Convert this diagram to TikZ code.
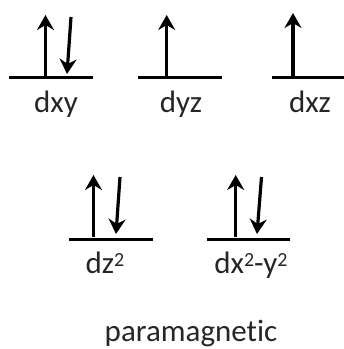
\documentclass[tikz,border=0pt]{standalone}
\usepackage{fontspec}
\setmainfont[Ligatures=NoCommon]{Carlito}
\usetikzlibrary{arrows.meta}
\newcommand{\sq}{\raisebox{7pt}{\fontsize{20}{20}\selectfont 2}}
\begin{document}
\begin{tikzpicture}[x=1pt,y=-1pt,
  level/.style={line width=3pt},
  spin/.style={line width=3.2pt,-{Stealth[length=15pt,width=17pt,inset=5pt]}},
  lab/.style={anchor=base,inner sep=0pt,font=\fontsize{31}{37}\selectfont,text=black!85}]
\useasboundingbox (0,0) rectangle (344,349);
% levels
\coordinate (l1a) at (9,77.5);   \coordinate (l1b) at (93,77.5);
\coordinate (l2a) at (138,77.5); \coordinate (l2b) at (222,77.5);
\coordinate (l3a) at (272,77.5); \coordinate (l3b) at (344,77.5);
\coordinate (l4a) at (69,239);   \coordinate (l4b) at (153,239);
\coordinate (l5a) at (207,239);  \coordinate (l5b) at (290,239);
\draw[level] (l1a) -- (l1b);
\draw[level] (l2a) -- (l2b);
\draw[level] (l3a) -- (l3b);
\draw[level] (l4a) -- (l4b);
\draw[level] (l5a) -- (l5b);
% electrons
\coordinate (u1s) at (45.5,76);  \coordinate (u1e) at (45.5,15);
\coordinate (d1s) at (71,17);    \coordinate (d1e) at (67,74);
\coordinate (u2s) at (166.7,76); \coordinate (u2e) at (166.7,15);
\coordinate (u3s) at (293,76);   \coordinate (u3e) at (293,13);
\coordinate (u4s) at (93.5,237); \coordinate (u4e) at (93.5,175);
\coordinate (d4s) at (120,177);  \coordinate (d4e) at (116,234);
\coordinate (u5s) at (235.7,237);\coordinate (u5e) at (235.7,175);
\coordinate (d5s) at (261.5,177);\coordinate (d5e) at (257,234);
\draw[spin] (u1s) -- (u1e);
\draw[spin] (d1s) -- (d1e);
\draw[spin] (u2s) -- (u2e);
\draw[spin] (u3s) -- (u3e);
\draw[spin] (u4s) -- (u4e);
\draw[spin] (d4s) -- (d4e);
\draw[spin] (u5s) -- (u5e);
\draw[spin] (d5s) -- (d5e);
% labels
\node[lab] (t1) at (56,112) {dxy};
\node[lab] (t2) at (181,112) {dyz};
\node[lab] (t3) at (310,112) {dxz};
\node[lab] (t4) at (105,273) {dz\sq};
\node[lab] (t5) at (251,273) {dx\sq-y\sq};
\node[lab] (t6) at (191,341) {paramagnetic};
\end{tikzpicture}
\end{document}
